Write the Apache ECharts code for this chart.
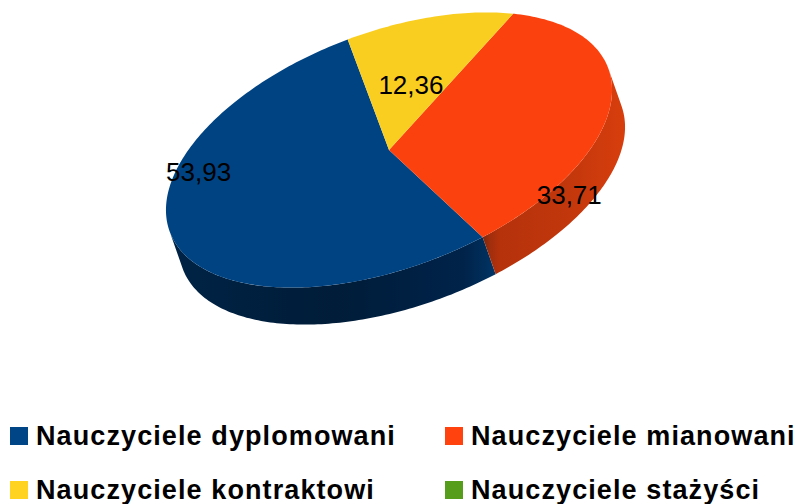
<!DOCTYPE html>
<html><head><meta charset="utf-8">
<style>html,body{margin:0;padding:0;background:#fff}#c{width:798px;height:504px}
#c svg text[style*="bold"]{letter-spacing:1.1px}</style>
<script src="https://cdn.jsdelivr.net/npm/echarts@6/dist/echarts.min.js"></script>
</head><body><div id="c"></div>
<script>
const categories = ['Nauczyciele dyplomowani','Nauczyciele mianowani','Nauczyciele kontraktowi','Nauczyciele stażyści'];
const values = [53.93, 33.71, 12.36, 0];
const valueLabels = ['53,93','33,71','12,36',''];
const colors = ['#004586','#ff420e','#ffd320','#579d1c'];
const topColors = ['#004382','#fb420e','#f9ce20','#579d1c'];

// Tilted-disc projection
const CX = 389, CY = 150, A = 234, B = 118, TILT = 20.5 * Math.PI / 180, DX = 13, DY = 37;
const ux = Math.cos(TILT), uy = -Math.sin(TILT), vx = Math.sin(TILT), vy = Math.cos(TILT);
const total = values.reduce((s, v) => s + v, 0);
const project = t => [CX + A * Math.cos(t) * ux + B * Math.sin(t) * vx,
                      CY + A * Math.cos(t) * uy + B * Math.sin(t) * vy];
const RAD = Math.PI / 180;
// label placement inside the projection: angle shift (deg) from slice middle, radial factor
const labelPlace = [[33, 0.885], [38.5, 1.105], [0, 0.49], [0, 0]];
const wallFill = [
  {type:'linear', global:true, x:175, y:0, x2:496, y2:0, colorStops:[
    {offset:0,color:'#002345'},{offset:0.5,color:'#001c38'},{offset:0.9,color:'#00234a'},{offset:0.97,color:'#002f5c'},{offset:1,color:'#00376a'}]},
  {type:'linear', global:true, x:483, y:0, x2:625, y2:0, colorStops:[
    {offset:0,color:'#7a2810'},{offset:0.05,color:'#a02e0c'},{offset:0.12,color:'#b5320b'},{offset:0.6,color:'#c2370c'},{offset:1,color:'#d83e0d'}]},
  '#d0a818','#467f16'
];

function renderSlice(i) {
  return function (params, api) {
    const v = api.value(0);
    if (!v) return null;
    const before = values.slice(0, i).reduce((s, x) => s + x, 0);
    const t0 = -90 - before / total * 360, t1 = -90 - (before + v) / total * 360;
    const top = [[CX, CY]];
    for (let d = t0; d > t1; d -= 1) top.push(project(d * RAD));
    top.push(project(t1 * RAD));
    const children = [];
    // visible outer wall: where the rim faces the viewer (param angle 0..180)
    for (let k = -1; k <= 1; k++) {
      const lo = Math.max(t1, k * 360), hi = Math.min(t0, k * 360 + 180);
      if (hi <= lo) continue;
      const rim = [];
      for (let d = lo; d < hi; d += 1) rim.push(project(d * RAD));
      rim.push(project(hi * RAD));
      const low = rim.slice().reverse().map(p => [p[0] + DX, p[1] + DY]);
      children.push({type:'polygon', z2:1, shape:{points: rim.concat(low)}, style:{fill: wallFill[i]}});
    }
    children.push({type:'polygon', z2:5, shape:{points: top}, style:{fill: topColors[i]}});
    const mid = (t0 + t1) / 2 + labelPlace[i][0], r = labelPlace[i][1];
    const m = [CX + r * A * Math.cos(mid * RAD) * ux + r * B * Math.sin(mid * RAD) * vx,
               CY + r * A * Math.cos(mid * RAD) * uy + r * B * Math.sin(mid * RAD) * vy];
    children.push({type:'text', z2:20, x:m[0], y:m[1], style:{text: valueLabels[i], fill:'#000',
      font:'26px "Liberation Sans"', align:'center', verticalAlign:'middle'}});
    return {type:'group', children};
  };
}

const chart = echarts.init(document.getElementById('c'), null, {renderer:'svg'});
const legendBase = {orient:'vertical', top:419.5, height:120, icon:'rect', itemWidth:18, itemHeight:18, itemGap:21, selectedMode:false,
  padding:0, textStyle:{color:'#000', fontFamily:'Liberation Sans', fontWeight:'bold', fontSize:27, padding:[6,0,0,3], height:27, lineHeight:27}};
chart.setOption({
  animation:false,
  backgroundColor:'#fff',
  legend:[
    Object.assign({}, legendBase, {left:10, data:[categories[0], categories[2]]}),
    Object.assign({}, legendBase, {left:445, data:[categories[1], categories[3]]})
  ],
  series: categories.map((name, i) => ({
    type:'custom', name, coordinateSystem:'none', silent:true,
    itemStyle:{color:colors[i]},
    data:[[values[i]]],
    encode:{value:0},
    renderItem: renderSlice(i)
  }))
});
</script></body></html>
